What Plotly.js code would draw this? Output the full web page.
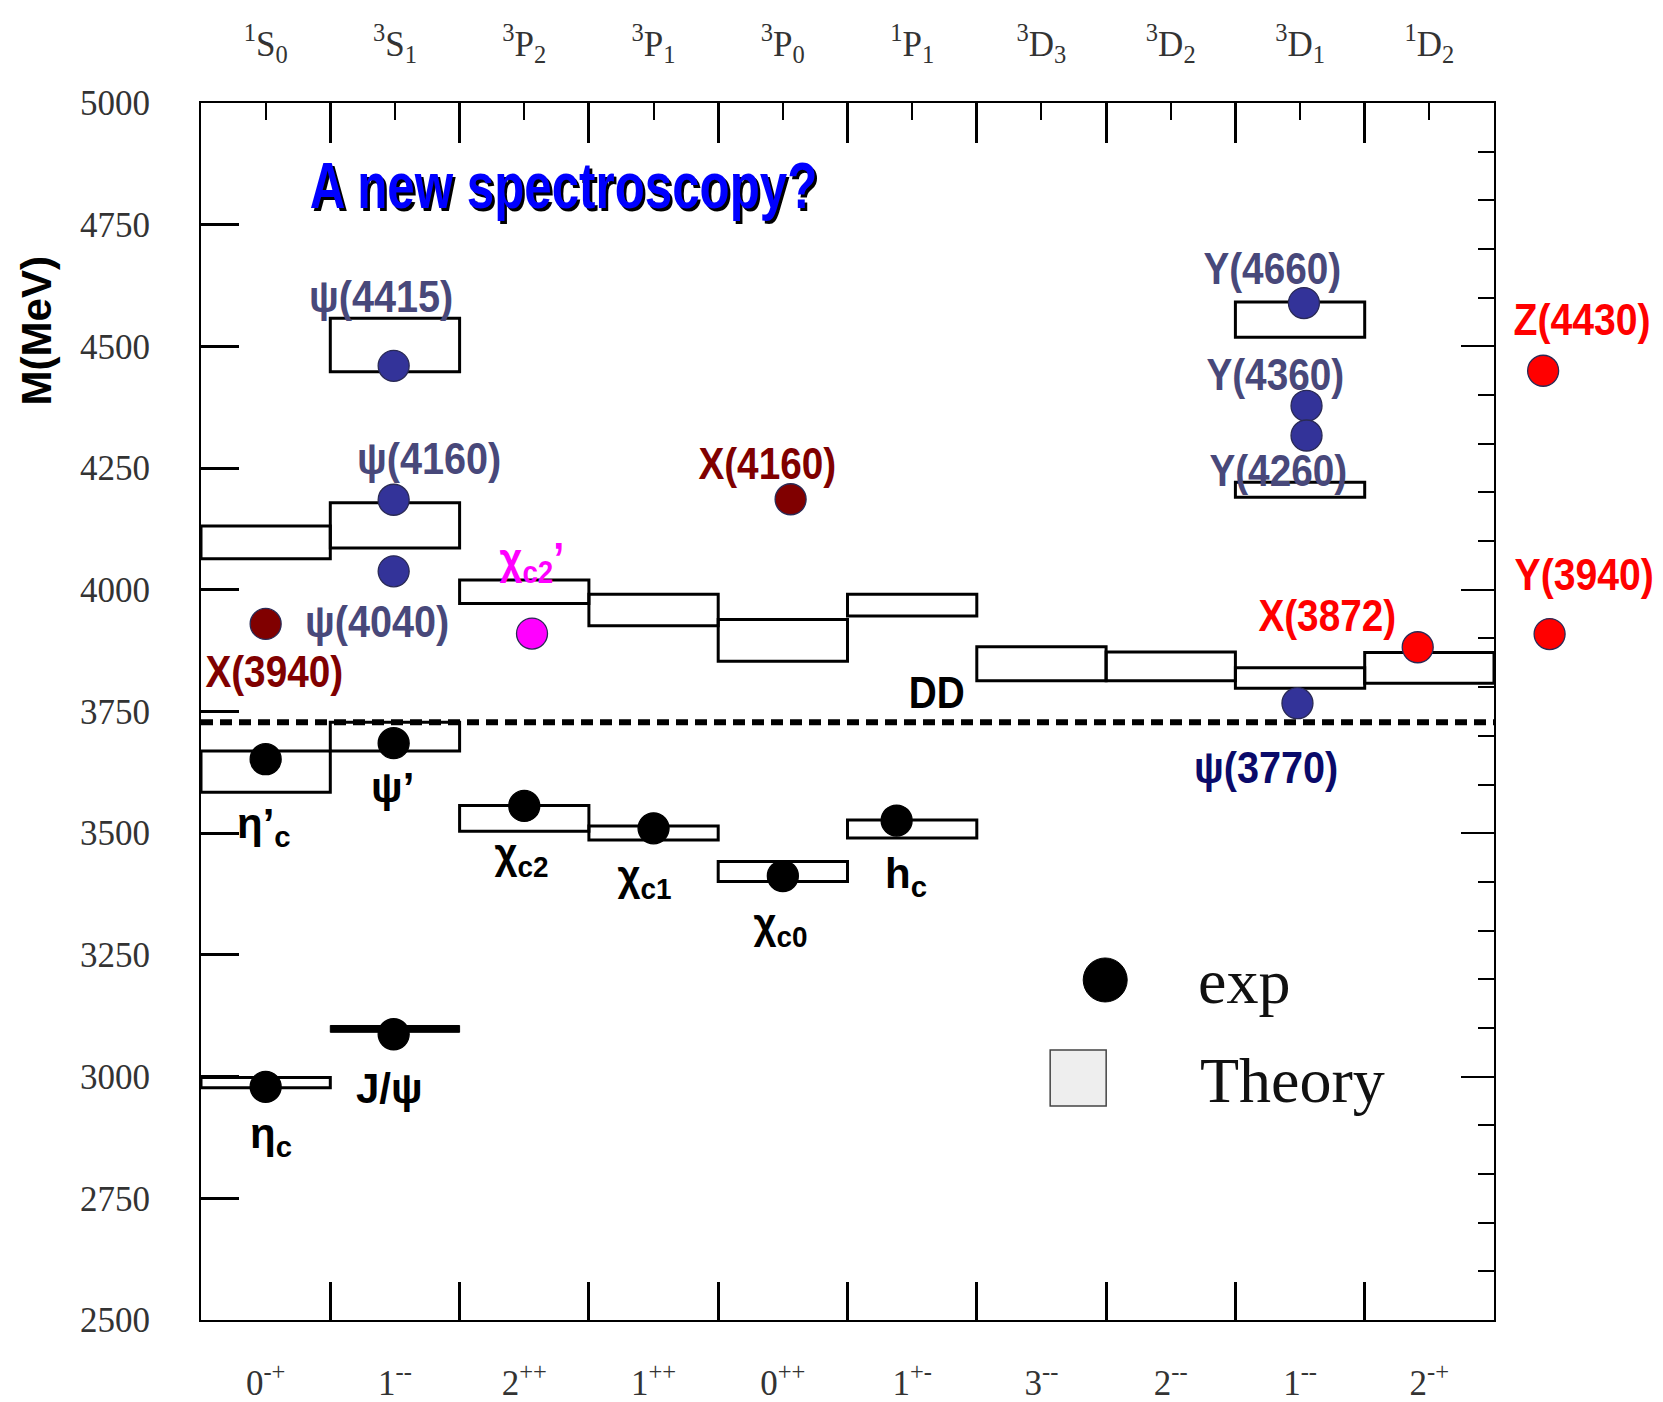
<!DOCTYPE html>
<html>
<head>
<meta charset="utf-8">
<script src="https://cdn.plot.ly/plotly-3.0.1.min.js"></script>
<style>
  html, body { margin: 0; padding: 0; background: #fff; }
  #chart { width: 1663px; height: 1402px; }
</style>
</head>
<body>
<div id="chart"></div>
<script>
// Charmonium spectrum: theory bands per spectroscopic column and measured states.

// Columns: spectroscopic notation (top) and J^PC (bottom)
const stateLabels = ['<sup>1</sup>S<sub>0</sub>', '<sup>3</sup>S<sub>1</sub>', '<sup>3</sup>P<sub>2</sub>',
  '<sup>3</sup>P<sub>1</sub>', '<sup>3</sup>P<sub>0</sub>', '<sup>1</sup>P<sub>1</sub>',
  '<sup>3</sup>D<sub>3</sub>', '<sup>3</sup>D<sub>2</sub>', '<sup>3</sup>D<sub>1</sub>', '<sup>1</sup>D<sub>2</sub>'];
const jpcLabels = ['0<sup>-+</sup>', '1<sup>--</sup>', '2<sup>++</sup>', '1<sup>++</sup>', '0<sup>++</sup>',
  '1<sup>+-</sup>', '3<sup>--</sup>', '2<sup>--</sup>', '1<sup>--</sup>', '2<sup>-+</sup>'];
const massTicks = [2500, 2750, 3000, 3250, 3500, 3750, 4000, 4250, 4500, 4750, 5000];

// Theory predictions: column index and mass band (MeV)
const theoryColumn = [0, 0, 0, 1, 1, 1, 2, 2, 3, 3, 4, 4, 5, 5, 6, 7, 8, 8, 8, 9];
const theoryLow  = [4064, 3584, 2977, 4448, 4086, 3669, 3972, 3504, 3926, 3486, 3853, 3401, 3946, 3490, 3813, 3813, 4519, 4190, 3798, 3808];
const theoryHigh = [4131, 3669, 2998, 4558, 4179, 3728, 4020, 3557, 3991, 3515, 3939, 3442, 3991, 3527, 3883, 3872, 4591, 4221, 3840, 3871];
// J/psi band (drawn solid, very narrow)
const jpsiColumn = 1;
const jpsiBand = [3091, 3105];

// D Dbar threshold (MeV)
const ddThreshold = 3728;
const ddSpan = [0, 10];

// Measured states: conventional charmonia
const conventionalNames = ['η_c', 'J/ψ', "η'_c", "ψ'", 'χ_c2', 'χ_c1', 'χ_c0', 'h_c'];
const conventionalX    = [0.50, 1.49, 0.50, 1.49, 2.50, 3.50, 4.50, 5.38];
const conventionalMass = [2979, 3087, 3652, 3685, 3556, 3510, 3412, 3526];

// Vector states (psi / Y family)
const vectorNames = ['ψ(4415)', 'ψ(4160)', 'ψ(4040)', 'Y(4660)', 'Y(4360)', 'Y(4260)', 'ψ(3770)'];
const vectorX    = [1.49, 1.49, 1.49, 8.53, 8.55, 8.55, 8.48];
const vectorMass = [4460, 4185, 4038, 4589, 4378, 4317, 3767];

// X states seen in double charmonium production
const doubleCcNames = ['X(3940)', 'X(4160)'];
const doubleCcX    = [0.50, 4.56];
const doubleCcMass = [3930, 4186];

// Radially excited chi_c2 candidate
const chiPrimeNames = ["χ_c2'"];
const chiPrimeX    = [2.56];
const chiPrimeMass = [3910];

// Exotic candidates (two of them sit outside the J^PC grid, right of the frame)
const exoticNames = ['X(3872)', 'Z(4430)', 'Y(3940)'];
const exoticX    = [9.41, 10.38, 10.43];
const exoticMass = [3882, 4450, 3909];

const X_RANGE = [0, 10];
const Y_RANGE = [2500, 5000];
const colCenters = stateLabels.map((_, i) => i + 0.5);
const colEdges = stateLabels.map((_, i) => i).concat([stateLabels.length]);
const rightMinor = [];
for (let m = Y_RANGE[0]; m <= Y_RANGE[1]; m += 100) rightMinor.push(m);
const rightMajor = massTicks.filter(m => m % 500 === 0);

// Page geometry: the framed grid ends before the right margin so that
// out-of-grid states can be placed on a wider companion axis.
const W = 1663, H = 1402;
const M = { l: 201, r: 10, t: 103, b: 82 };
const FRAME_W = 1293;
const frameFrac = FRAME_W / (W - M.l - M.r);
const wideRange = [X_RANGE[0], X_RANGE[0] + (X_RANGE[1] - X_RANGE[0]) / frameFrac];

const SERIF = '"Liberation Serif", "Times New Roman", Times, serif';
const NARROW = '"Liberation Sans Narrow", "Arial Narrow", "Liberation Sans", Arial, sans-serif';
const SANS = '"Liberation Sans", Arial, sans-serif';

const C_BLACK = '#000000';
const C_VECTOR = '#333399';
const C_VECTOR_TXT = '#48487a';
const C_DARKRED = '#800000';
const C_MAGENTA = '#ff00ff';
const C_RED = '#ff0000';

function dots(x, y, names, color, edge, xaxis) {
  return {
    type: 'scatter', mode: 'markers', x: x, y: y, text: names,
    xaxis: xaxis || 'x', yaxis: 'y',
    cliponaxis: false, hoverinfo: 'text',
    marker: { symbol: 'circle', size: 31, color: color, line: { color: edge, width: 1.3 } }
  };
}

const traces = [
  dots(conventionalX, conventionalMass, conventionalNames, C_BLACK, '#000'),
  dots(vectorX, vectorMass, vectorNames, C_VECTOR, '#2a2a55'),
  dots(doubleCcX, doubleCcMass, doubleCcNames, C_DARKRED, '#2a2a55'),
  dots(chiPrimeX, chiPrimeMass, chiPrimeNames, C_MAGENTA, '#2a2a55'),
  dots(exoticX, exoticMass, exoticNames, C_RED, '#2a2a55', 'x3'),
  {
    type: 'scatter', mode: 'lines', x: ddSpan, y: [ddThreshold, ddThreshold],
    xaxis: 'x2', yaxis: 'y2', hoverinfo: 'skip',
    line: { color: '#000', width: 6, dash: '12px,7px' }
  }
];

// Theory bands as open boxes spanning their column
const shapes = theoryColumn.map((c, i) => ({
  type: 'rect', xref: 'x', yref: 'y', layer: 'below',
  x0: c, x1: c + 1, y0: theoryLow[i], y1: theoryHigh[i],
  line: { color: '#000', width: 3 }, fillcolor: 'rgba(0,0,0,0)'
}));
shapes.push({
  type: 'rect', xref: 'x', yref: 'y', layer: 'below',
  x0: jpsiColumn, x1: jpsiColumn + 1, y0: jpsiBand[0], y1: jpsiBand[1],
  line: { color: '#000', width: 1 }, fillcolor: '#000'
});

// Legend key
shapes.push({
  type: 'circle', xref: 'x domain', yref: 'y domain', xsizemode: 'pixel', ysizemode: 'pixel',
  xanchor: 0.6993, yanchor: 0.2794, x0: -22, x1: 22, y0: -22, y1: 22,
  fillcolor: '#000', line: { color: '#000', width: 1 }
});
shapes.push({
  type: 'rect', xref: 'x domain', yref: 'y domain', xsizemode: 'pixel', ysizemode: 'pixel',
  xanchor: 0.6784, yanchor: 0.1989, x0: -28, x1: 28, y0: -28, y1: 28,
  fillcolor: '#eeeeee', line: { color: '#444', width: 1.5 }
});

// Horizontal squeeze applied to the condensed label lettering (by annotation index)
const squeeze = [];

function label(text, x, y, color, size, squeezeX) {
  const inside = x >= X_RANGE[0] && x <= X_RANGE[1];
  squeeze.push(squeezeX || 1);
  return {
    text: text, showarrow: false, xanchor: 'center', yanchor: 'middle',
    x: x, xref: inside ? 'x' : 'x3', y: y, yref: 'y',
    font: { family: NARROW, size: size, color: color, weight: 'bold' }
  };
}
function plain(ann) { squeeze.push(1); return ann; }

const annotations = [
  label('ψ(4415)', 1.39, 4602, C_VECTOR_TXT, 44, 0.9),
  label('ψ(4160)', 1.76, 4270, C_VECTOR_TXT, 44, 0.9),
  label('ψ(4040)', 1.36, 3935, C_VECTOR_TXT, 44, 0.9),
  label('X(3940)', 0.57, 3832, C_DARKRED, 44, 0.88),
  label('X(4160)', 4.38, 4260, C_DARKRED, 44, 0.88),
  label('χ<sub>c2</sub>’', 2.56, 4058, C_MAGENTA, 44, 0.9),
  label('Y(4660)', 8.29, 4660, C_VECTOR_TXT, 44, 0.88),
  label('Y(4360)', 8.31, 4442, C_VECTOR_TXT, 44, 0.88),
  label('Y(4260)', 8.33, 4246, C_VECTOR_TXT, 44, 0.88),
  label('Z(4430)', 10.68, 4555, C_RED, 44, 0.89),
  label('Y(3940)', 10.70, 4031, C_RED, 44, 0.89),
  label('X(3872)', 8.71, 3948, C_RED, 44, 0.88),
  label('ψ(3770)', 8.24, 3634, '#0a0a6a', 44, 0.9),
  label('DD', 5.69, 3790, '#000', 44, 0.88),
  label('η’<sub>c</sub>', 0.49, 3514, '#000', 42),
  label('ψ’', 1.48, 3594, '#000', 42),
  label('χ<sub>c2</sub>', 2.48, 3452, '#000', 42, 0.95),
  label('χ<sub>c1</sub>', 3.43, 3407, '#000', 42, 0.95),
  label('χ<sub>c0</sub>', 4.48, 3308, '#000', 42, 0.95),
  label('h<sub>c</sub>', 5.45, 3411, '#000', 42),
  label('J/ψ', 1.46, 2975, '#000', 42),
  label('η<sub>c</sub>', 0.54, 2876, '#000', 42),
  plain({
    text: 'A new spectroscopy?', showarrow: false, xref: 'x domain', yref: 'y domain',
    x: 0.2806, y: 0.9318, xanchor: 'center', yanchor: 'middle',
    font: { family: NARROW, size: 64, color: '#0000ff', weight: 'bold', shadow: '3px 3px 0px #000' }
  }),
  plain({
    text: 'M(MeV)', showarrow: false, xref: 'x domain', yref: 'y domain', textangle: -90,
    x: -0.1265, y: 0.8127, xanchor: 'center', yanchor: 'middle',
    font: { family: SANS, size: 42, color: '#000', weight: 'bold' }
  }),
  plain({
    text: 'exp', showarrow: false, xref: 'x domain', yref: 'y domain',
    x: 0.7697, y: 0.2782, xanchor: 'left', yanchor: 'middle',
    font: { family: SERIF, size: 64, color: '#111' }
  }),
  plain({
    text: 'Theory', showarrow: false, xref: 'x domain', yref: 'y domain',
    x: 0.7712, y: 0.1966, xanchor: 'left', yanchor: 'middle',
    font: { family: SERIF, size: 64, color: '#111' }
  })
];
squeeze[annotations.length - 4] = 0.77;  // title lettering

const tickFont = { family: SERIF, size: 35, color: '#333' };

const layout = {
  width: W, height: H,
  margin: { l: M.l, r: M.r, t: M.t, b: M.b, pad: 0 },
  paper_bgcolor: '#ffffff', plot_bgcolor: 'rgba(0,0,0,0)',
  showlegend: false,
  xaxis: {
    domain: [0, frameFrac], range: X_RANGE,
    tickmode: 'array', tickvals: colCenters, ticktext: jpcLabels,
    ticks: 'inside', ticklen: 0, tickwidth: 0, tickfont: tickFont, ticklabelstandoff: 31,
    showline: true, linecolor: '#000', linewidth: 2, showgrid: false, zeroline: false,
    minor: { tickmode: 'array', tickvals: colEdges, ticks: 'inside', ticklen: 38, tickwidth: 2.5, tickcolor: '#000', showgrid: false }
  },
  xaxis2: {
    overlaying: 'x', side: 'top', anchor: 'y2', range: X_RANGE,
    tickmode: 'array', tickvals: colCenters, ticktext: stateLabels,
    ticks: 'inside', ticklen: 17, tickwidth: 1.5, tickcolor: '#000', tickfont: tickFont, ticklabelstandoff: 31,
    showline: true, linecolor: '#000', linewidth: 2, showgrid: false, zeroline: false,
    minor: { tickmode: 'array', tickvals: colEdges, ticks: 'inside', ticklen: 40, tickwidth: 2.5, tickcolor: '#000', showgrid: false }
  },
  xaxis3: {
    domain: [0, 1], anchor: 'y', range: wideRange, visible: false, showgrid: false, zeroline: false
  },
  yaxis: {
    range: Y_RANGE, anchor: 'x', tickmode: 'array', tickvals: massTicks, ticktext: massTicks.map(String),
    ticks: 'inside', ticklen: 38, tickwidth: 3, tickcolor: '#000', tickfont: tickFont, ticklabelstandoff: 42,
    showline: true, linecolor: '#000', linewidth: 2, showgrid: false, zeroline: false
  },
  yaxis2: {
    overlaying: 'y', side: 'right', anchor: 'x2', range: Y_RANGE,
    tickmode: 'array', tickvals: rightMajor, showticklabels: false,
    ticks: 'inside', ticklen: 33, tickwidth: 2, tickcolor: '#000',
    showline: true, linecolor: '#000', linewidth: 2, showgrid: false, zeroline: false,
    minor: { tickmode: 'array', tickvals: rightMinor, ticks: 'inside', ticklen: 16, tickwidth: 2, tickcolor: '#000', showgrid: false }
  },
  shapes: shapes,
  annotations: annotations
};

Plotly.newPlot('chart', traces, layout, { displayModeBar: false, responsive: false }).then(gd => {
  // Condensed lettering: squeeze each label horizontally about its own centre
  gd.querySelectorAll('g.annotation').forEach(g => {
    const k = squeeze[+g.getAttribute('data-index')];
    if (!k || k === 1) return;
    const t = g.querySelector('text.annotation-text');
    if (!t) return;
    const bb = t.getBBox();
    const cx = bb.x + bb.width / 2;
    const prev = t.getAttribute('transform') || '';
    t.setAttribute('transform', prev + ' translate(' + cx + ',0) scale(' + k + ',1) translate(' + (-cx) + ',0)');
  });
});
</script>
</body>
</html>
